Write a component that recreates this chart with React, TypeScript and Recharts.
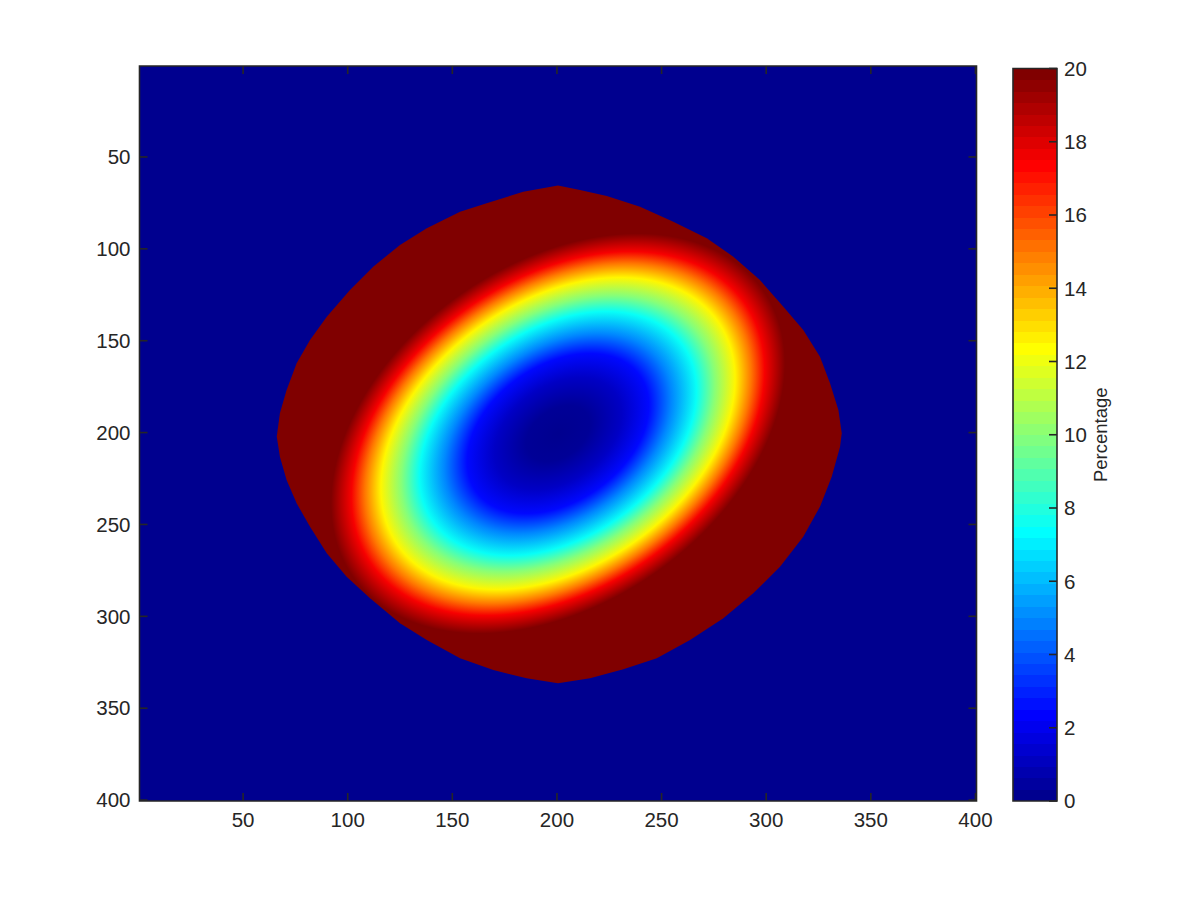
import React from 'react';
import { ScatterChart, Scatter, XAxis, YAxis, Label } from 'recharts';

const FONT = '"Liberation Sans", Arial, Helvetica, sans-serif';
const INK = '#262626';

// ---------- data ----------
const xTicks = [50, 100, 150, 200, 250, 300, 350, 400];
const yTicks = [50, 100, 150, 200, 250, 300, 350, 400];
const colorbarTicks = [0, 2, 4, 6, 8, 10, 12, 14, 16, 18, 20];

// boundary of the saturated (20 %) region, clockwise from the top
const satBoundaryX = [200.5, 211.0, 223.8, 239.7, 255.6, 271.6, 284.3, 297.0, 308.2, 317.7, 325.7, 330.5, 334.5, 336.1, 335.3, 331.3, 325.7, 317.7, 306.6, 293.8, 279.5, 263.6, 247.7, 231.7, 215.8, 200.5, 185.5, 169.6, 153.7, 137.8, 125.0, 110.7, 99.5, 90.0, 82.0, 75.6, 70.8, 67.6, 66.1, 67.6, 70.8, 75.6, 82.0, 90.0, 101.1, 112.2, 125.0, 137.8, 153.7, 166.4, 183.9];
const satBoundaryY = [65.6, 68.0, 71.2, 77.1, 85.2, 94.3, 104.3, 117.0, 131.5, 144.2, 158.7, 173.2, 187.7, 200.4, 207.7, 224.0, 240.3, 256.7, 273.0, 287.5, 301.1, 312.9, 322.8, 328.8, 333.7, 336.4, 333.7, 329.2, 322.8, 312.9, 303.8, 290.2, 278.4, 265.7, 251.2, 238.5, 225.8, 213.1, 202.2, 189.5, 176.8, 162.3, 149.6, 136.9, 122.4, 109.7, 97.9, 88.8, 79.8, 75.2, 68.9];

// elliptical bowl: its centre, the rightmost point of the 20 % contour,
// and the point of that contour straight below the centre
const ringCenter = { x: 200.5, y: 200.5 };
const ringRightmost = { x: 309.0, y: 162.5 };
const ringBelowCenter = { x: 200.5, y: 302.5 };

// value (percent) read along a ray from the centre, at fractions of the 20 % contour
const profileRadius = [0, 0.14, 0.28, 0.4, 0.5, 0.61, 0.69, 0.78, 0.85, 0.91, 1.0];
const profileValue = [0, 0.3, 1.2, 2.5, 5, 7.5, 10, 12.5, 15, 17.5, 20];

const VMAX = 20;

// ---------- colormap (MATLAB jet, 64 entries) ----------
function buildJet(m: number): number[][] {
  const n = Math.ceil(m / 4);
  const u: number[] = [];
  for (let i = 1; i <= n; i++) u.push(i / n);
  for (let i = 0; i < n - 1; i++) u.push(1);
  for (let i = n; i >= 1; i--) u.push(i / n);
  const g0 = Math.ceil(n / 2) - (m % 4 === 1 ? 1 : 0);
  const J = Array.from({ length: m }, () => [0, 0, 0]);
  u.forEach((val, k) => {
    const g = g0 + k + 1;
    const r = g + n;
    const b = g - n;
    if (r >= 1 && r <= m) J[r - 1][0] = val;
    if (g >= 1 && g <= m) J[g - 1][1] = val;
    if (b >= 1 && b <= m) J[b - 1][2] = val;
  });
  return J;
}
const JET = buildJet(64);
const hex = (c: number[]) =>
  '#' + c.map((v) => Math.round(Math.max(0, Math.min(1, v)) * 255).toString(16).padStart(2, '0')).join('');
const jetAt = (v: number) => {
  const f = Math.max(0, Math.min(63, (v / VMAX) * 64 - 0.5));
  const i = Math.floor(f);
  const j = Math.min(63, i + 1);
  const t = f - i;
  return hex([0, 1, 2].map((k) => JET[i][k] * (1 - t) + JET[j][k] * t));
};
const LOW = hex(JET[0]);
const HIGH = hex(JET[63]);

// ---------- tables built from the arrays ----------
const plotCorners = [
  { x: 0.5, y: 0.5 },
  { x: 400.5, y: 0.5 },
  { x: 400.5, y: 400.5 },
  { x: 0.5, y: 400.5 },
];
const satBoundary = satBoundaryX.map((x, i) => ({ x, y: satBoundaryY[i] }));
const ringPoints = [ringCenter, ringRightmost, ringBelowCenter];
const tickMarks = [
  ...xTicks.map((v) => ({ x: v, y: 400.5, d: 'up' })),
  ...xTicks.map((v) => ({ x: v, y: 0.5, d: 'down' })),
  ...yTicks.map((v) => ({ x: 0.5, y: v, d: 'right' })),
  ...yTicks.map((v) => ({ x: 400.5, y: v, d: 'left' })),
];

const cbLevels = JET.map((_, k) => k);
const cbEdges: { x: number; y: number }[] = [];
for (let k = 0; k <= JET.length; k++) {
  cbEdges.push({ x: 0, y: (k * VMAX) / JET.length });
  cbEdges.push({ x: 1, y: (k * VMAX) / JET.length });
}
const cbCorners = [
  { x: 0, y: 0 },
  { x: 1, y: 0 },
  { x: 1, y: VMAX },
  { x: 0, y: VMAX },
];
const cbTickMarks = colorbarTicks.map((v) => ({ x: 1, y: v, d: 'left' }));

// ---------- renderers ----------
const noShape = () => <g />;

const polyFill = (fill: string) => (p: any) => {
  const pts = p.points || [];
  return <polygon points={pts.map((q: any) => `${q.x},${q.y}`).join(' ')} fill={fill} stroke="none" />;
};

const polyFrame = (p: any) => {
  const pts = p.points || [];
  return (
    <polygon
      points={pts.map((q: any) => `${q.x},${q.y}`).join(' ')}
      fill="none"
      stroke={INK}
      strokeWidth={1.6}
    />
  );
};

const renderRing = (p: any) => {
  const pts = p.points || [];
  if (pts.length < 3) return <g />;
  const c = pts[0];
  const u = pts[1];
  const v = pts[2];
  const m = `matrix(${u.x - c.x},${u.y - c.y},${v.x - c.x},${v.y - c.y},${c.x},${c.y})`;
  return (
    <g>
      <defs>
        <radialGradient id="ringGrad" cx="50%" cy="50%" r="50%">
          {profileRadius.map((r, i) => (
            <stop key={i} offset={r} stopColor={jetAt(profileValue[i])} />
          ))}
        </radialGradient>
      </defs>
      <circle cx={0} cy={0} r={1} transform={m} fill="url(#ringGrad)" />
    </g>
  );
};

const TICK_LEN = 8;
const renderTickMark = (p: any) => {
  const { cx, cy, payload } = p;
  let x2 = cx;
  let y2 = cy;
  if (payload.d === 'up') y2 = cy - TICK_LEN;
  if (payload.d === 'down') y2 = cy + TICK_LEN;
  if (payload.d === 'right') x2 = cx + TICK_LEN;
  if (payload.d === 'left') x2 = cx - TICK_LEN;
  return <line x1={cx} y1={cy} x2={x2} y2={y2} stroke={INK} strokeWidth={1.6} />;
};

const renderBands = (p: any) => {
  const pts = p.points || [];
  const out: React.ReactNode[] = [];
  cbLevels.forEach((k) => {
    const a = pts[2 * k];
    const b = pts[2 * k + 3];
    if (!a || !b) return;
    out.push(
      <rect
        key={k}
        x={Math.min(a.x, b.x)}
        y={Math.min(a.y, b.y)}
        width={Math.abs(b.x - a.x)}
        height={Math.abs(b.y - a.y) + 0.3}
        fill={hex(JET[k])}
        shapeRendering="crispEdges"
      />
    );
  });
  return <g>{out}</g>;
};

const tickStyle = { fill: INK, fontSize: 20.5, fontFamily: FONT };

export default function App() {
  return (
    <div style={{ position: 'absolute', left: 0, top: 0, width: 1200, height: 900, background: '#fff' }}>
      <div style={{ position: 'absolute', left: 0, top: 0 }}>
        <ScatterChart width={1200} height={900} margin={{ top: 66, right: 223.5, bottom: 59, left: 79.5 }}>
          <XAxis
            type="number"
            dataKey="x"
            domain={[0.5, 400.5]}
            ticks={xTicks}
            interval={0}
            tickLine={false}
            axisLine={false}
            tickSize={0}
            tickMargin={11}
            height={40}
            tick={tickStyle}
          />
          <YAxis
            type="number"
            dataKey="y"
            domain={[0.5, 400.5]}
            reversed
            ticks={yTicks}
            interval={0}
            tickLine={false}
            axisLine={false}
            tickSize={0}
            tickMargin={9}
            width={60}
            tick={tickStyle}
          />
          <Scatter data={plotCorners} line={polyFill(LOW)} shape={noShape} isAnimationActive={false} />
          <Scatter data={satBoundary} line={polyFill(HIGH)} shape={noShape} isAnimationActive={false} />
          <Scatter data={ringPoints} line={renderRing} shape={noShape} isAnimationActive={false} />
          <Scatter data={plotCorners} line={polyFrame} shape={noShape} isAnimationActive={false} />
          <Scatter data={tickMarks} shape={renderTickMark} isAnimationActive={false} />
        </ScatterChart>
      </div>
      <div style={{ position: 'absolute', left: 1000, top: 0 }}>
        <ScatterChart width={200} height={900} margin={{ top: 68.5, right: 57, bottom: 99, left: 13 }}>
          <XAxis type="number" dataKey="x" domain={[0, 1]} hide />
          <YAxis
            type="number"
            dataKey="y"
            orientation="right"
            domain={[0, VMAX]}
            ticks={colorbarTicks}
            interval={0}
            tickLine={false}
            axisLine={false}
            tickSize={0}
            tickMargin={7}
            width={86}
            tick={tickStyle}
          >
            <Label
              value="Percentage"
              angle={-90}
              position="center"
              style={{ fill: INK, fontSize: 18.5, fontFamily: FONT }}
            />
          </YAxis>
          <Scatter data={cbEdges} line={renderBands} shape={noShape} isAnimationActive={false} />
          <Scatter data={cbCorners} line={polyFrame} shape={noShape} isAnimationActive={false} />
          <Scatter data={cbTickMarks} shape={renderTickMark} isAnimationActive={false} />
        </ScatterChart>
      </div>
    </div>
  );
}
